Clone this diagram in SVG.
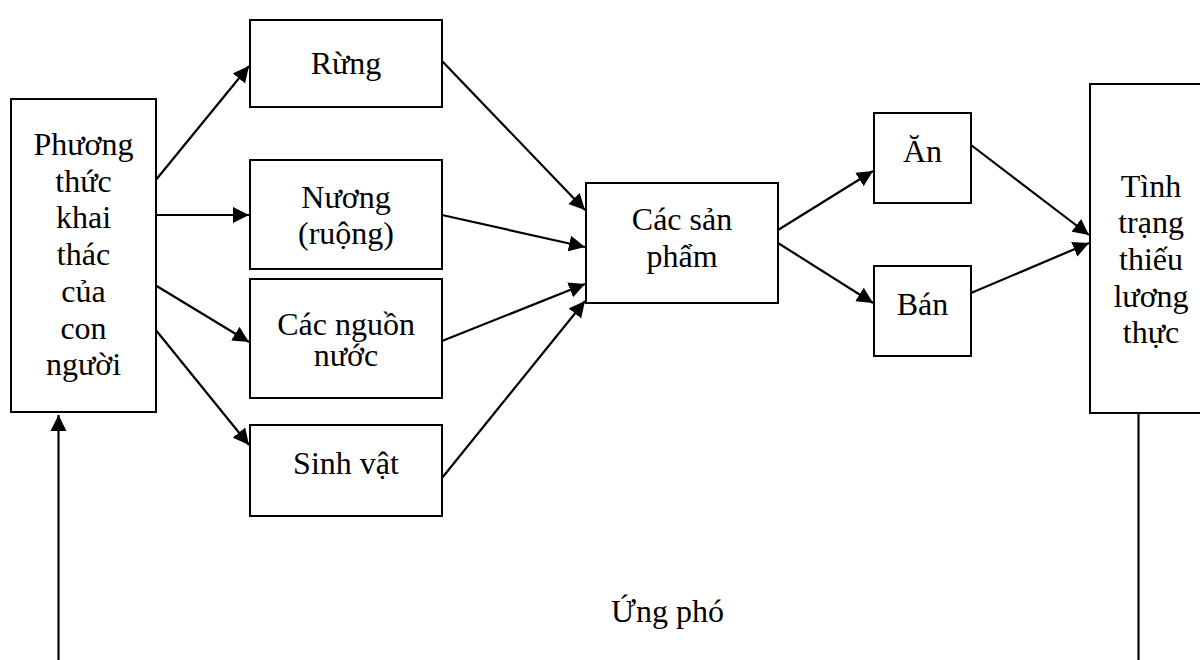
<svg xmlns="http://www.w3.org/2000/svg" width="1200" height="660" viewBox="0 0 1200 660">
<style>
.box{fill:#fff;stroke:#000;stroke-width:2}
.t{font-family:"Liberation Serif","Times New Roman",serif;font-size:32px;fill:#000;text-anchor:middle}
.c{stroke:#000;stroke-width:2.2;fill:none}
.a{marker-end:url(#ah)}
</style>
<defs>
<marker id="ah" markerUnits="userSpaceOnUse" markerWidth="17" markerHeight="17" refX="16" refY="8" orient="auto" viewBox="0 0 17 16">
<path d="M0,0 L16,8 L0,16 z" fill="#000"/>
</marker>
</defs>
<rect width="1200" height="660" fill="#fff"/>
<g id="connectors">
<line class="c a" x1="155" y1="181" x2="249" y2="66"/>
<line class="c a" x1="156" y1="215" x2="249" y2="215"/>
<line class="c a" x1="155" y1="285" x2="249" y2="342"/>
<line class="c a" x1="155" y1="329" x2="249" y2="445"/>
<line class="c a" x1="442" y1="61" x2="585" y2="210"/>
<line class="c a" x1="442" y1="215" x2="585" y2="247"/>
<line class="c a" x1="442" y1="341" x2="585" y2="284"/>
<line class="c a" x1="442" y1="478" x2="585" y2="301"/>
<line class="c a" x1="778" y1="230" x2="873" y2="171"/>
<line class="c a" x1="778" y1="243" x2="873" y2="303"/>
<line class="c a" x1="971" y1="145" x2="1089" y2="235"/>
<line class="c a" x1="971" y1="293" x2="1089" y2="243"/>
<line class="c a" x1="58.5" y1="660" x2="58.5" y2="415"/>
<line class="c" x1="1138.5" y1="413" x2="1138.5" y2="660"/>
</g>
<g id="n-phuongthuc">
<rect class="box" x="11" y="99" width="145" height="313"/>
<text class="t" x="83.5" y="155">Phương</text>
<text class="t" x="83.5" y="191.7">thức</text>
<text class="t" x="83.5" y="228.4">khai</text>
<text class="t" x="83.5" y="265">thác</text>
<text class="t" x="83.5" y="301.8">của</text>
<text class="t" x="83.5" y="338.5">con</text>
<text class="t" x="83.5" y="375">người</text>
</g>
<g id="n-rung">
<rect class="box" x="250" y="20" width="192" height="87"/>
<text class="t" x="346" y="74">Rừng</text>
</g>
<g id="n-nuong">
<rect class="box" x="250" y="160" width="192" height="109"/>
<text class="t" x="346" y="208">Nương</text>
<text class="t" x="346" y="243.5">(ruộng)</text>
</g>
<g id="n-nguonnuoc">
<rect class="box" x="250" y="279" width="192" height="119"/>
<text class="t" x="346" y="335">Các nguồn</text>
<text class="t" x="346" y="365.5">nước</text>
</g>
<g id="n-sinhvat">
<rect class="box" x="250" y="425" width="192" height="91"/>
<text class="t" x="346" y="473.5">Sinh vật</text>
</g>
<g id="n-sanpham">
<rect class="box" x="586" y="183" width="192" height="120"/>
<text class="t" x="682" y="230">Các sản</text>
<text class="t" x="682" y="266.7">phẩm</text>
</g>
<g id="n-an">
<rect class="box" x="874" y="113" width="97" height="90"/>
<text class="t" x="922.5" y="162">Ăn</text>
</g>
<g id="n-ban">
<rect class="box" x="874" y="266" width="97" height="90"/>
<text class="t" x="922.5" y="315">Bán</text>
</g>
<g id="n-tinhtrang">
<rect class="box" x="1090" y="84" width="122" height="329"/>
<text class="t" x="1151" y="196.7">Tình</text>
<text class="t" x="1151" y="233.4">trạng</text>
<text class="t" x="1151" y="270">thiếu</text>
<text class="t" x="1151" y="306.7">lương</text>
<text class="t" x="1151" y="343.4">thực</text>
</g>
<text class="t" x="667.5" y="622">Ứng phó</text>
</svg>
